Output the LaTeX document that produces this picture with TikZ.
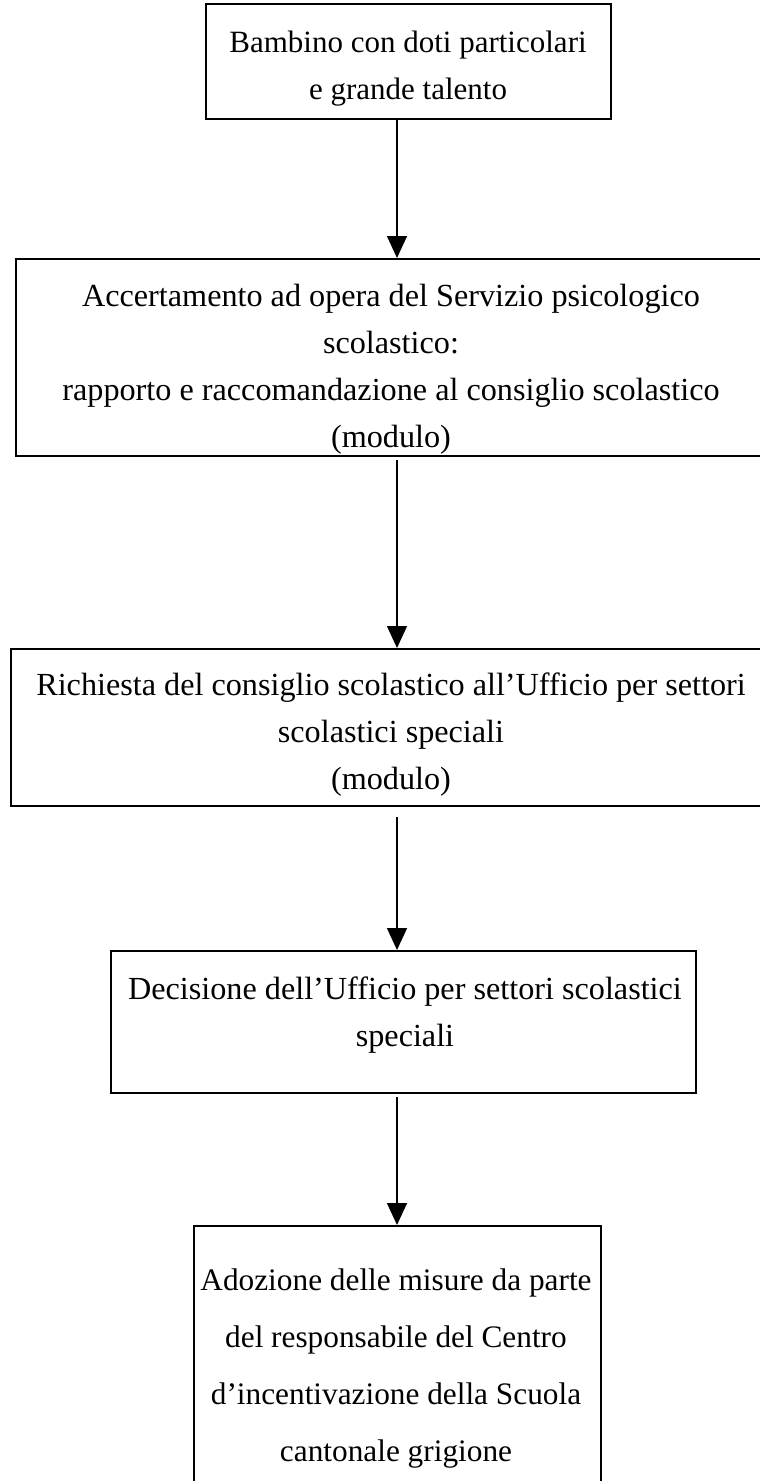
\documentclass[tikz,border=0pt]{standalone}
\usepackage{fontspec}
\setmainfont{Liberation Serif}
\usetikzlibrary{arrows.meta}
\begin{document}
\begin{tikzpicture}[x=1pt,y=-1pt,
  box/.style={draw,line width=2pt,rectangle,inner sep=0pt,anchor=north west},
  lbl/.style={align=center,font=\fontsize{31}{47}\selectfont,inner sep=0pt},
  wlbl/.style={align=center,font=\fontsize{32.2}{47}\selectfont,inner sep=0pt},
  arr/.style={line width=1.5pt,-{Triangle[length=22pt,width=20pt]}}]
\useasboundingbox (0,0) rectangle (760,1481);
\clip (0,0) rectangle (760,1481);
\node[box,minimum width=405pt,minimum height=115pt] (b1) at (205,3) {};
\node[lbl] (t1) at (408,69) {Bambino con doti particolari\\e grande talento};
\node[box,minimum width=770pt,minimum height=197pt] (b2) at (15,258) {};
\node[wlbl] (t2) at (391,369) {Accertamento ad opera del Servizio psicologico\\scolastico:\\rapporto e raccomandazione al consiglio scolastico\\(modulo)};
\node[box,minimum width=780pt,minimum height=157pt] (b3) at (10,648) {};
\node[wlbl] (t3) at (391,735) {Richiesta del consiglio scolastico all’Ufficio per settori\\scolastici speciali\\(modulo)};
\node[box,minimum width=585pt,minimum height=142pt] (b4) at (110,950) {};
\node[wlbl] (t4) at (405,1015) {Decisione dell’Ufficio per settori scolastici\\speciali};
\node[box,minimum width=407pt,minimum height=300pt] (b5) at (193,1225) {};
\node[lbl,font=\fontsize{31.3}{57}\selectfont] (t5) at (396,1368) {Adozione delle misure da parte\\del responsabile del Centro\\d’incentivazione della Scuola\\cantonale grigione};
\coordinate (ax) at (397,0);
\draw[arr] (b1.south -| ax) -- (b2.north -| ax);
\draw[arr,shorten <=3pt] (b2.south -| ax) -- (b3.north -| ax);
\draw[arr,shorten <=10pt] (b3.south -| ax) -- (b4.north -| ax);
\draw[arr,shorten <=3pt] (b4.south -| ax) -- (b5.north -| ax);
\end{tikzpicture}
\end{document}
